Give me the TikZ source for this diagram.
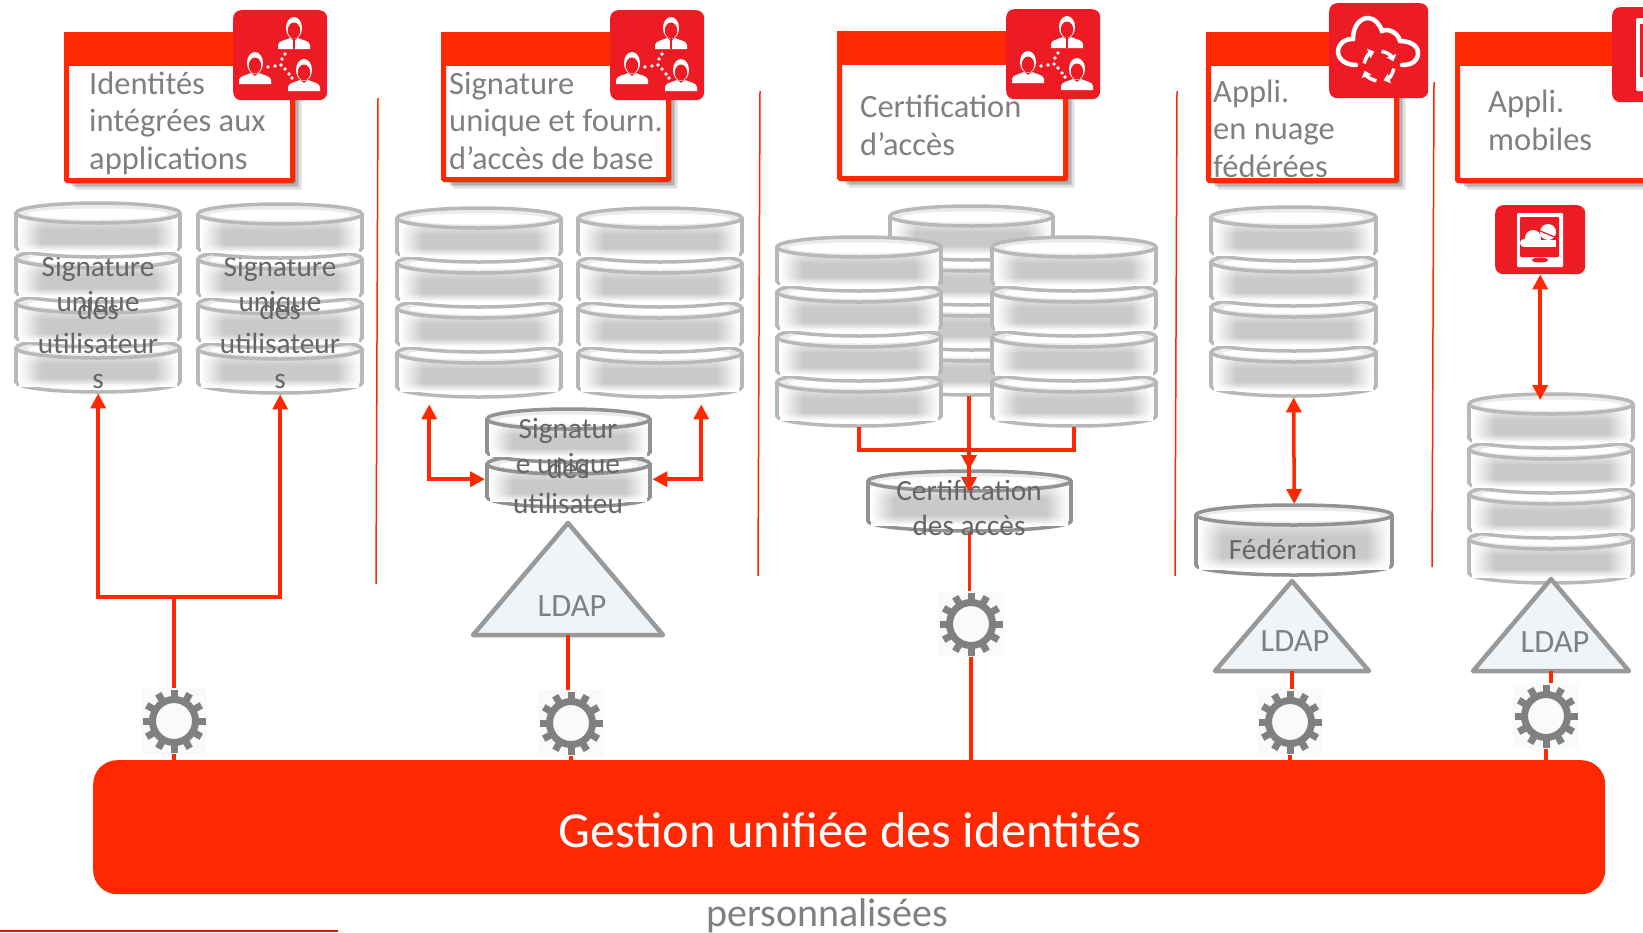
\documentclass[tikz,border=0pt]{standalone}
\usepackage{fontspec}
\setmainfont{Carlito}
\usetikzlibrary{arrows.meta,shadows,fadings,positioning}

\definecolor{barred}{HTML}{FF2800}
\definecolor{iconred}{HTML}{ED1C24}
\definecolor{labelgray}{HTML}{808080}
\definecolor{dbgray}{HTML}{666666}
\definecolor{disklight}{HTML}{B8B8B8}
\definecolor{diskdark}{HTML}{929292}
\definecolor{gearcol}{HTML}{808080}
\definecolor{ldapfill}{HTML}{EEF4F7}

\pgfdeclareverticalshading{diskface}{100bp}{color(0bp)=(white); color(25bp)=(white); color(38bp)=(black!21); color(60bp)=(black!21); color(75bp)=(black!10); color(100bp)=(black!10)}

\tikzset{
	hdrbox/.style={draw=barred,line width=5pt,fill=white,rounded corners=1pt,inner sep=0pt,anchor=north west,
		drop shadow={shadow xshift=3pt,shadow yshift=-3pt,opacity=.2,fill=black},
		drop shadow={shadow xshift=6pt,shadow yshift=-6pt,opacity=.2,fill=black},
		drop shadow={shadow xshift=9pt,shadow yshift=-9pt,opacity=.12,fill=black}},
	hdrtext/.style={font=\fontsize{32.5}{37.5}\selectfont,text=labelgray,align=left,inner sep=0pt,anchor=base west},
	dbtext/.style={font=\fontsize{29.3}{34.5}\selectfont,text=dbgray,align=center,inner sep=0pt,anchor=base},
	iconbox/.style={fill=iconred,rounded corners=8pt,inner sep=0pt,anchor=north west},
	link/.style={draw=barred,line width=3.5pt},
	septrule/.style={draw=barred,line width=1.5pt},
	gearhalo/.style={fill=black!2,minimum size=66pt,inner sep=0pt},
	ldaptext/.style={font=\fontsize{32.5}{34}\selectfont,text=labelgray,inner sep=0pt},
}

% one disk: left, top, width, height, line colour
\newcommand{\dbdisk}[5]{
	\pgfmathsetmacro{\midx}{#1+#3/2}
	\pgfmathsetmacro{\leftx}{#1+2}
	\pgfmathsetmacro{\rightx}{#1+#3-2}
	\pgfmathsetmacro{\topy}{#2+11}
	\pgfmathsetmacro{\boty}{#2+#4-11}
	\fill[white,draw=#5,line width=3.5pt] (\midx,\boty) ellipse [x radius=#3/2-2,y radius=10];
	\fill[white] (\leftx,\topy) rectangle (\rightx,\boty);
	\shade[shading=diskface] (\leftx+3,\topy+7) rectangle (\rightx-3,\boty+4);
	\fill[white,path fading=east] (\leftx+3,\topy) rectangle (\leftx+26,\boty+4);
	\fill[white,path fading=west] (\rightx-26,\topy) rectangle (\rightx-3,\boty+4);
	\draw[#5,line width=3.5pt] (\leftx,\topy) -- (\leftx,\boty) (\rightx,\topy) -- (\rightx,\boty);
	\fill[black!8,draw=#5,line width=3.5pt] (\midx,\topy) ellipse [x radius=#3/2-2,y radius=10];
	\fill[white] (\midx,\topy+1) ellipse [x radius=#3/2-14,y radius=5.5];
}

% name, left, top, width, disks, disk height, line colour
\newcommand{\dbstack}[7]{
	\foreach \i in {#5,...,1} {
		\pgfmathsetmacro{\disktop}{#3+(\i-1)*45}
		\dbdisk{#2}{\disktop}{#4}{#6}{#7}
	}
	\pgfmathsetmacro{\stackh}{(#5-1)*45+#6}
	\node[minimum width=#4 pt,minimum height=\stackh pt,inner sep=0pt,anchor=north west] (#1) at (#2,#3) {};
}

% name, x, y
\newcommand{\gearwheel}[3]{
	\node[gearhalo] (#1) at (#2,#3) {};
	\draw[gearcol,line width=7pt] (#1.center) circle (21.5pt);
	\foreach \a in {0,30,...,330}
		\draw[gearcol,line width=7pt] (#1.center) ++(\a:22) -- ++(\a:9.5);
}

% name, apex x, apex y, half base, height, label x, label y
\newcommand{\ldaptri}[7]{
	\draw[fill=ldapfill,draw=black!40,line width=4.5pt,line join=round] (#2,#3) -- ++(#4,#5) -- ++(-2*#4,0) -- cycle;
	\coordinate (#1-base) at (#2,#3+#5);
	\node[ldaptext] (#1) at (#6,#7) {LDAP};
}

\newcommand{\person}[2]{
	\begin{scope}[shift={(#1,#2)}]
		\fill[white] (16,10) ellipse [x radius=8,y radius=11];
		\fill[iconred] (16,12.5) ellipse [x radius=6.2,y radius=8];
		\fill[white] (0,31) -- (0,27) .. controls (0,23) and (8,22) .. (12,20) -- (16,23) -- (20,20) .. controls (24,22) and (32,23) .. (32,27) -- (32,31) -- cycle;
	\end{scope}
}

% name, x, y
\newcommand{\peopleicon}[3]{
	\node[iconbox,minimum width=94pt,minimum height=90pt] (#1) at (#2,#3) {};
	\begin{scope}[shift={(#2,#3)}]
		\person{45}{8}
		\draw[iconred,line width=1.5pt] (61,28) -- (61,39);
		\person{6}{43}
		\person{55}{50}
		\foreach \p in {(35,57),(42,56),(48,55),(49,49),(52,44),(52,59),(56,64),(59,68)}
			\fill[white] \p circle (1.8);
	\end{scope}
}

\begin{document}
\begin{tikzpicture}[x=1pt,y=-1pt,>={Triangle[width=15pt,length=15pt]}]
	\useasboundingbox (0,0) rectangle (1643,932);

	% column separators
	\draw[septrule] (378,98) -- (376,584);
	\draw[septrule] (760,91) -- (758,576);
	\draw[septrule] (1177,91) -- (1175,576);
	\draw[septrule] (1434,82) -- (1432,567);
	\draw[draw=barred!80!black,line width=2pt] (0,930.5) -- (338,930.5);

	% header boxes
	\node[hdrbox,minimum width=226pt,minimum height=146pt] (boxA) at (64,32) {};
	\fill[barred] (64,32) rectangle (295,66);
	\node[hdrtext] (labelA) at (89,169) {Identités\\intégrées aux\\applications};
	\peopleicon{iconA}{233}{10}

	\node[hdrbox,minimum width=225pt,minimum height=145pt] (boxB) at (441,32) {};
	\fill[barred] (441,32) rectangle (671,66);
	\node[hdrtext] (labelB) at (449,169) {Signature\\unique et fourn.\\d’accès de base};
	\peopleicon{iconB}{610}{10}

	\node[hdrbox,minimum width=226pt,minimum height=145pt] (boxC) at (837,31) {};
	\fill[barred] (837,31) rectangle (1068,65);
	\node[hdrtext] (labelC) at (860,155) {Certification\\d’accès};
	\peopleicon{iconC}{1006}{9}

	\node[hdrbox,minimum width=188pt,minimum height=146pt] (boxD) at (1206,32) {};
	\fill[barred] (1206,32) rectangle (1399,66);
	\node[hdrtext] (labelD) at (1213,177) {Appli.\\en nuage\\fédérées};
	\node[iconbox,minimum width=99pt,minimum height=95pt] (iconD) at (1329,3) {};
	\begin{scope}[shift={(1329,3)}]
		\draw[white,line width=4.5pt,line cap=round] (27,62) .. controls (14,62) and (9,54) .. (9,49) .. controls (9,41) and (15,36) .. (24,36) .. controls (24,22) and (32,15) .. (39,15) .. controls (46,15) and (51,22) .. (53,28) .. controls (60,25) and (69,30) .. (71,38) .. controls (80,38) and (89,42) .. (89,50) .. controls (89,58) and (83,62) .. (73,62);
		\foreach \a in {10,100,190,280}
			\draw[white,line width=3.5pt,-{Triangle[width=10pt,length=6pt]}] ([shift={(50,63)}]\a:15) arc [start angle=\a,delta angle=62,radius=15];
	\end{scope}

	\node[hdrbox,minimum width=260pt,minimum height=146pt] (boxE) at (1455,32) {};
	\fill[barred] (1455,32) rectangle (1720,66);
	\node[hdrtext] (labelE) at (1488,150) {Appli.\\mobiles};
	\node[iconbox,minimum width=100pt,minimum height=95pt] (iconE) at (1612,7) {};
	\begin{scope}[shift={(1612,7)}]
		\fill[white,rounded corners=2pt] (24,11) rectangle (80,84);
		\fill[iconred] (28,17) rectangle (76,70);
	\end{scope}

	% disk stacks of the first column, their text lies under the top disk
	\dbstack{stackA}{14}{247}{168}{3}{56}{disklight}
	\node[dbtext] (textA) at (98,311) {Signature\\unique};
	\node[dbtext] (usersA) at (98,388) {des\\utilisateur\\s};
	\dbdisk{14}{202}{168}{56}{disklight}
	\dbstack{stackB}{196}{248}{168}{3}{56}{disklight}
	\node[dbtext] (textB) at (280,311) {Signature\\unique};
	\node[dbtext] (usersB) at (280,388) {des\\utilisateur\\s};
	\dbdisk{196}{203}{168}{56}{disklight}

	\dbstack{stackC}{395}{207}{168}{4}{56}{disklight}
	\dbstack{stackD}{576}{207}{168}{4}{56}{disklight}
	\dbstack{stackE}{888}{205}{167}{4}{56}{disklight}
	\dbstack{stackF}{775}{236}{168}{4}{56}{disklight}
	\dbstack{stackG}{990}{236}{168}{4}{56}{disklight}
	\dbstack{stackH}{1209}{206}{169}{4}{56}{disklight}
	\dbstack{stackI}{1467}{393}{168}{4}{56}{disklight}
	\dbstack{stackJ}{485}{408}{167}{2}{55}{diskdark}
	\dbstack{stackK}{866}{470}{207}{1}{62}{diskdark}
	\dbstack{stackL}{1194}{504}{200}{1}{72}{diskdark}

	% LDAP triangles
	\ldaptri{ldapB}{568}{523}{95}{112}{572}{606}
	\ldaptri{ldapD}{1292}{581}{77}{90}{1295}{641}
	\ldaptri{ldapE}{1551}{579}{78}{92}{1555}{642}

	% tablet
	\node[iconbox,minimum width=90pt,minimum height=69pt] (tablet) at (1495,205) {};
	\begin{scope}[shift={(1495,205)}]
		\fill[white,rounded corners=1pt] (22,8) rectangle (68,62);
		\fill[iconred,rounded corners=1pt] (25,12) rectangle (64,52);
		\fill[iconred] (45,55) ellipse [x radius=8,y radius=2.5];
		\fill[white] (53,27) circle (8) (38,33) circle (8) (29,38) circle (4);
		\fill[white] (29,35) rectangle (61,42);
		\draw[iconred,line width=1.2pt] (38,23) -- (62,33);
	\end{scope}

	% gears and bar
	\gearwheel{gearA}{174}{721}
	\gearwheel{gearB}{571}{723}
	\gearwheel{gearC}{971}{624}
	\gearwheel{gearD}{1290}{722}
	\gearwheel{gearE}{1546}{716}
	\node[fill=barred,rounded corners=24pt,minimum width=1512pt,minimum height=134pt,inner sep=0pt,anchor=north west] (bar) at (93,760) {};
	\node[text=white,font=\fontsize{50.5}{54}\selectfont,inner sep=0pt] (title) at (850,830) {Gestion unifiée des identités};
	\node[text=labelgray,font=\fontsize{40}{44}\selectfont,inner sep=0pt,anchor=base] (persoText) at (827,926) {personnalisées};

	% connectors
	\coordinate (hubA) at (174,597);
	\draw[link] (gearA.north) -- (hubA);
	\draw[link,->] (hubA) -| (stackA.south);
	\draw[link,->] (hubA) -| (stackB.south);
	\draw[link] (gearA.south) -- (gearA.south |- bar.north);

	\draw[link,<->] ([xshift=-50pt,yshift=-6pt]stackC.south) |- ([yshift=-21pt]stackJ.west);
	\draw[link,<->] ([xshift=41pt,yshift=-6pt]stackD.south) |- ([yshift=-21pt]stackJ.east);
	\draw[link] (ldapB-base) -- (ldapB-base |- gearB.north);
	\draw[link] (gearB.south) -- (gearB.south |- bar.north);

	\coordinate (hubC) at (969,450);
	\draw[link] (stackF.south) |- (hubC) -| (stackG.south);
	\draw[link,->] (hubC |- stackE.south) -- (hubC |- stackK.north);
	\draw[link,->] (hubC |- stackE.south) -- ([yshift=-22pt]hubC |- stackK.north);
	\draw[link] (stackK.south) -- (stackK.south |- gearC.north);
	\draw[link] (gearC.south) -- (gearC.south |- bar.north);

	\draw[link,<->] (stackH.south) -- (stackL.north);
	\draw[link] (ldapD-base) -- (ldapD-base |- gearD.north);
	\draw[link] (gearD.south) -- (gearD.south |- bar.north);

	\draw[link,<->] (tablet.south) -- ([yshift=-7pt]tablet.south |- stackI.north);
	\draw[link] (ldapE-base) -- (ldapE-base |- gearE.north);
	\draw[link] (gearE.south) -- (gearE.south |- bar.north);

	% text on the lower disks
	\node[dbtext] (textJ) at (568,473) {Signatur\\e unique};
	\node[dbtext] (usersJ) at (568,513) {des\\utilisateu};
	\node[dbtext] (textK) at (969,535) {Certification\\des accès};
	\node[dbtext] (textL) at (1293,559) {Fédération};
\end{tikzpicture}
\end{document}
